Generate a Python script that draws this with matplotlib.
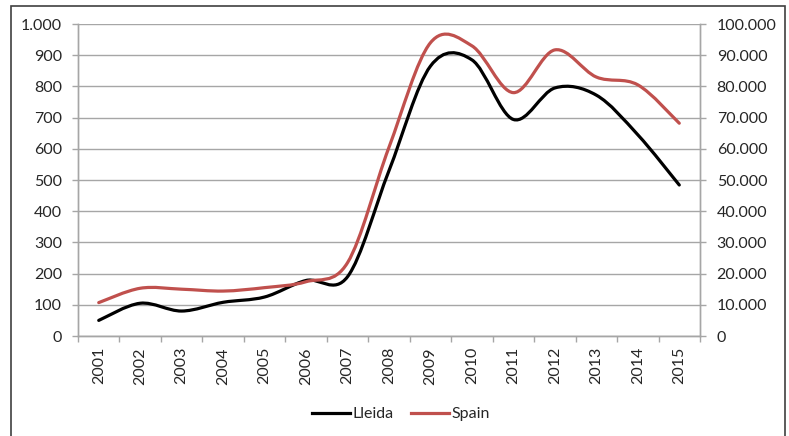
import matplotlib
matplotlib.use("Agg")
import matplotlib.pyplot as plt
from matplotlib.path import Path
from matplotlib.patches import PathPatch, Rectangle
from matplotlib.lines import Line2D
from matplotlib.ticker import FuncFormatter, FixedLocator
import numpy as np

years = ["2001", "2002", "2003", "2004", "2005", "2006", "2007", "2008",
         "2009", "2010", "2011", "2012", "2013", "2014", "2015"]
lleida = [50, 105, 80, 108, 125, 178, 190, 530, 865, 885, 694, 795, 772, 645, 484]
spain = [10700, 15300, 15000, 14400, 15500, 17400, 23500, 60500,
         94000, 93000, 78000, 91700, 83000, 80500, 68200]

plt.rcParams['font.family'] = ['Lato', 'DejaVu Sans']

W, H = 789, 436
fig = plt.figure(figsize=(W / 100, H / 100), dpi=100)
ax = fig.add_axes([78 / W, 1 - 336 / H, (700 - 78) / W, (336 - 24) / H])
ax2 = ax.twinx()

def smooth_path(xs, ys):
    # Excel-style smoothed line: cubic Bezier through every data point
    pts = np.column_stack([xs, ys]).astype(float)
    n = len(pts)
    verts = [pts[0]]
    codes = [Path.MOVETO]
    for i in range(n - 1):
        p0 = pts[i - 1] if i > 0 else pts[i]
        p1 = pts[i]
        p2 = pts[i + 1]
        p3 = pts[i + 2] if i + 2 < n else pts[i + 1]
        c1 = p1 + (p2 - p0) / 6.0
        c2 = p2 - (p3 - p1) / 6.0
        verts += [c1, c2, p2]
        codes += [Path.CURVE4] * 3
    return Path(verts, codes)

x = np.arange(len(years))
black = '#000000'
red = '#C0504D'
lw = 2.3
fs = 11.5

ax.add_patch(PathPatch(smooth_path(x, lleida), facecolor='none', edgecolor=black,
                       lw=lw, capstyle='round', joinstyle='round', zorder=3))
ax2.add_patch(PathPatch(smooth_path(x, spain), facecolor='none', edgecolor=red,
                        lw=lw, capstyle='round', joinstyle='round', zorder=3))

ax.set_xlim(-0.5, len(years) - 0.5)
ax.set_ylim(0, 1000)
ax2.set_ylim(0, 100000)
ax.set_yticks(np.arange(0, 1001, 100))
ax2.set_yticks(np.arange(0, 100001, 10000))

def dotfmt(v, pos):
    return f"{int(round(v)):,}".replace(",", ".")

ax.yaxis.set_major_formatter(FuncFormatter(dotfmt))
ax2.yaxis.set_major_formatter(FuncFormatter(dotfmt))

ax.xaxis.set_major_locator(FixedLocator(np.arange(-0.5, len(years), 1.0)))
ax.xaxis.set_minor_locator(FixedLocator(x))
ax.set_xticklabels([], minor=False)
ax.set_xticklabels(years, minor=True, rotation=90)

grid_c = '#A6A6A6'
text_c = '#262626'
ax.grid(axis='y', color=grid_c, lw=1.0)
ax.set_axisbelow(True)

for a in (ax, ax2):
    a.spines['top'].set_visible(False)
    for s in ('left', 'right', 'bottom'):
        a.spines[s].set_color(grid_c)
        a.spines[s].set_linewidth(1.0)

ax.tick_params(axis='y', which='major', length=4.5, width=1, color=grid_c,
               labelsize=fs, labelcolor=text_c, pad=7)
ax2.tick_params(axis='y', which='major', length=4, width=1, color=grid_c,
                labelsize=fs, labelcolor=text_c, pad=8)
ax.tick_params(axis='x', which='major', length=4.3, width=1, color=grid_c)
ax.tick_params(axis='x', which='minor', length=0, labelsize=fs,
               labelcolor=text_c, pad=8)

handles = [Line2D([], [], color=black, lw=lw), Line2D([], [], color=red, lw=lw)]
fig.legend(handles, ["Lleida", "Spain"], loc='center', ncol=2,
           bbox_to_anchor=(401 / W, 1 - 414 / H), frameon=False,
           fontsize=fs, handlelength=2.4, handletextpad=0.15,
           columnspacing=1.1, labelcolor=text_c)

fig.patches.append(Rectangle((10.5 / W, -0.05), (785 - 10.5) / W, 1.05 - 6.5 / H,
                             transform=fig.transFigure, fill=False,
                             edgecolor='#404040', lw=1.2))

fig.savefig("out.png", dpi=100)
